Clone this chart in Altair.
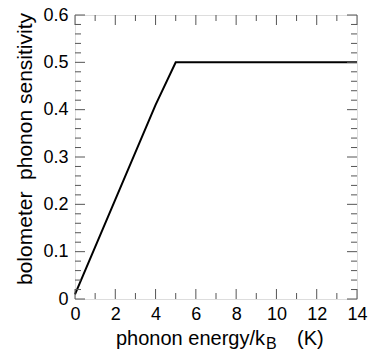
import altair as alt
import pandas as pd

# Sensitivity curve (phonon energy in K, sensitivity)
energy = [0, 2, 4, 5, 14]
sensitivity = [0.01, 0.21, 0.41, 0.50, 0.50]

# Tick positions
x_major = [0, 2, 4, 6, 8, 10, 12, 14]
x_minor = [1, 3, 5, 7, 9, 11, 13]
y_major = [0.0, 0.1, 0.2, 0.3, 0.4, 0.5, 0.6]
y_minor = [0.02, 0.04, 0.06, 0.08, 0.12, 0.14, 0.16, 0.18,
           0.22, 0.24, 0.26, 0.28, 0.32, 0.34, 0.36, 0.38,
           0.42, 0.44, 0.46, 0.48, 0.52, 0.54, 0.56, 0.58]

W, H = 282, 284
MAJ, MIN = 10, 6
FONT = "Liberation Sans"
FRAME = "#555555"

xs = alt.Scale(domain=[0, 14], nice=False, zero=False)
ys = alt.Scale(domain=[0, 0.6], nice=False, zero=False)

x_axis = alt.Axis(
    values=x_major, title=None, grid=False, domain=False, ticks=False,
    labelFontSize=18, labelFont=FONT, labelColor="black", labelPadding=6,
    labelFlush=False)
y_axis = alt.Axis(
    values=y_major, title=None, grid=False, domain=False, ticks=False,
    labelFontSize=18, labelFont=FONT, labelColor="black", labelPadding=7,
    labelFlush=False,
    labelExpr="datum.value == 0 ? '0' : format(datum.value, '.1f')")

curve = pd.DataFrame({"e": energy, "s": sensitivity})

line = alt.Chart(curve).mark_line(color="black", strokeWidth=2).encode(
    x=alt.X("e:Q", scale=xs, axis=x_axis),
    y=alt.Y("s:Q", scale=ys, axis=y_axis),
)


def xticks(vals, length):
    df = pd.DataFrame({"v": vals})
    bottom = alt.Chart(df).mark_rule(color=FRAME, strokeWidth=1).encode(
        x=alt.X("v:Q", scale=xs, axis=x_axis),
        y=alt.value(H), y2=alt.value(H - length))
    top = alt.Chart(df).mark_rule(color=FRAME, strokeWidth=1).encode(
        x=alt.X("v:Q", scale=xs, axis=x_axis),
        y=alt.value(0), y2=alt.value(length))
    return [bottom, top]


def yticks(vals, length):
    df = pd.DataFrame({"v": vals})
    left = alt.Chart(df).mark_rule(color=FRAME, strokeWidth=1).encode(
        y=alt.Y("v:Q", scale=ys, axis=y_axis),
        x=alt.value(0), x2=alt.value(length))
    right = alt.Chart(df).mark_rule(color=FRAME, strokeWidth=1).encode(
        y=alt.Y("v:Q", scale=ys, axis=y_axis),
        x=alt.value(W), x2=alt.value(W - length))
    return [left, right]


one = pd.DataFrame({"k": [0]})

y_title = alt.Chart(one).mark_text(
    text="bolometer\u00a0\u00a0phonon sensitivity", angle=270, font=FONT,
    fontSize=21, color="black", align="center", baseline="middle",
).encode(x=alt.value(-49), y=alt.value(134))

x_title_main = alt.Chart(one).mark_text(
    text="phonon energy/k", font=FONT, fontSize=20, color="black",
    align="right", baseline="alphabetic",
).encode(x=alt.value(190), y=alt.value(330))

x_title_sub = alt.Chart(one).mark_text(
    text="B", font=FONT, fontSize=16, color="black",
    align="left", baseline="alphabetic",
).encode(x=alt.value(191), y=alt.value(334))

x_title_unit = alt.Chart(one).mark_text(
    text="(K)", font=FONT, fontSize=20, color="black",
    align="left", baseline="alphabetic",
).encode(x=alt.value(222), y=alt.value(330))

layers = ([line] + xticks(x_major, MAJ) + xticks(x_minor, MIN)
          + yticks(y_major, MAJ) + yticks(y_minor, MIN)
          + [y_title, x_title_main, x_title_sub, x_title_unit])

chart = alt.layer(*layers).properties(
    width=W, height=H,
    autosize=alt.AutoSizeParams(type="none"),
    padding={"left": 75, "top": 15, "right": 13, "bottom": 52},
).configure_view(stroke=FRAME, strokeWidth=1).configure(background="white")

chart.save("out.html", embed_options={"renderer": "svg", "actions": False})
